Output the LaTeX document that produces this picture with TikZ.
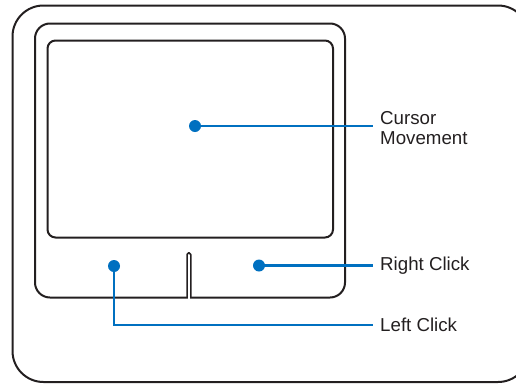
\documentclass[tikz,border=0pt]{standalone}
\usepackage{fontspec}
\setmainfont{Liberation Sans}
\definecolor{padblue}{RGB}{0,112,192}
\definecolor{padline}{RGB}{35,31,32}
\begin{document}
\begin{tikzpicture}[x=1pt,y=-1pt,
  frame/.style={draw=padline,line width=2pt},
  dot/.style={circle,fill=padblue,inner sep=0pt,minimum size=12pt},
  lead/.style={draw=padblue,line width=2.5pt},
  lbl/.style={anchor=west,inner xsep=7pt,inner ysep=0pt,text=padline,align=left,
    font=\fontsize{18.7}{20}\selectfont}]
\useasboundingbox (0,0) rectangle (516,383);
\begin{scope}
\clip (0,0) rectangle (516,383);
\draw[frame,rounded corners=31pt] (12.5,5.5) rectangle (529,382);
\end{scope}
\draw[frame,rounded corners=15pt] (35,23.5) rectangle (345,297.5);
\draw[frame,rounded corners=8pt] (47.5,40.5) rectangle (333,237.5);
% button divider slot
\fill[white] (187.6,255) rectangle (190.4,299);
\draw[frame,line width=1.5pt,line join=round] (187,297.5) -- (187,254.5) arc[start angle=180,end angle=0,radius=1.9pt] -- (190.8,297.5);
% dots and labels
\node[dot] (cm) at (195,126) {};
\node[dot] (rc) at (259,265.5) {};
\node[dot] (lc) at (114,266) {};
\node[lbl] (cmt) at (373,128) {Cursor\\Movement};
\node[lbl] (rct) at (373,265.5) {Right Click};
\node[lbl] (lct) at (373,325) {Left Click};
\path[lead] (cm) -- (cm -| cmt.west);
\path[lead] (rc) -- (rct.west);
\path[lead] (lc) |- (lct.west);
\end{tikzpicture}
\end{document}
